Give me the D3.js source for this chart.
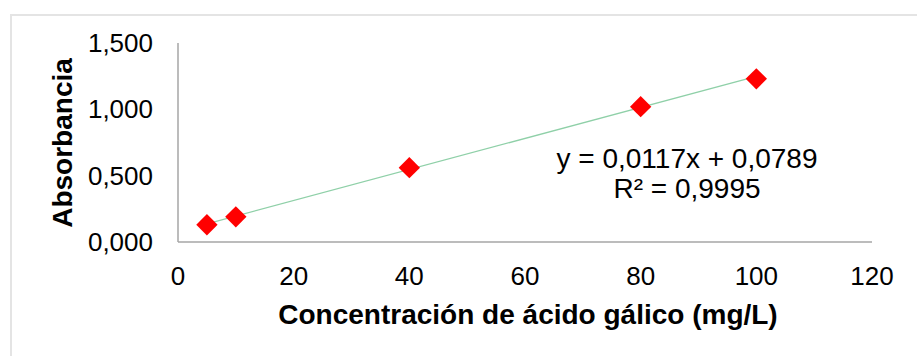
<!DOCTYPE html>
<html>
<head>
<meta charset="utf-8">
<script src="https://cdn.jsdelivr.net/npm/d3@7"></script>
<style>
  html, body { margin: 0; padding: 0; background: #fff; }
  svg { display: block; }
</style>
</head>
<body>
<svg id="chart" width="917" height="356"></svg>
<script>
// Calibration data: gallic acid concentration vs absorbance
const concentrations = [5, 10, 40, 80, 100];
const absorbances = [0.130, 0.190, 0.560, 1.020, 1.230];
const xTicks = [0, 20, 40, 60, 80, 100, 120];
const yTicks = [0, 0.5, 1.0, 1.5];
const slope = 0.0117;
const intercept = 0.0789;
const equationLabel = "y = 0,0117x + 0,0789";
const r2Label = "R² = 0,9995";

const svg = d3.select("#chart");
const font = "'Liberation Sans', Arial, sans-serif";
const tickSize = 26;
const titleSize = 28;

// Outer chart frame
svg.append("rect")
  .attr("x", 11).attr("y", 15)
  .attr("width", 920).attr("height", 360)
  .attr("fill", "#fff")
  .attr("stroke", "#e4e4e4")
  .attr("stroke-width", 2);

const x = d3.scaleLinear().domain([0, 120]).range([178, 872]);
const y = d3.scaleLinear().domain([0, 1.5]).range([242, 43]);

function label(px, py, anchor, txt, size, bold) {
  return svg.append("text")
    .attr("x", px).attr("y", py)
    .attr("text-anchor", anchor)
    .attr("font-family", font)
    .attr("font-size", size)
    .attr("font-weight", bold ? "bold" : "normal")
    .attr("fill", "#000")
    .text(txt);
}

// Axis lines
svg.append("line")
  .attr("x1", x(0)).attr("x2", x(0))
  .attr("y1", y(1.5)).attr("y2", y(0))
  .attr("stroke", "#a6a6a6").attr("stroke-width", 1.5);
svg.append("line")
  .attr("x1", x(0)).attr("x2", x(120))
  .attr("y1", y(0)).attr("y2", y(0))
  .attr("stroke", "#a6a6a6").attr("stroke-width", 1.5);

// Y tick labels
yTicks.forEach(d => {
  label(153, y(d), "end", d3.format(".3f")(d).replace(".", ","), tickSize)
    .attr("dy", "0.35em");
});

// X tick labels
xTicks.forEach(d => {
  label(x(d), 285, "middle", String(d), tickSize);
});

// Axis titles
svg.append("text")
  .attr("transform", "translate(72,143) rotate(-90)")
  .attr("text-anchor", "middle")
  .attr("font-family", font)
  .attr("font-size", titleSize)
  .attr("font-weight", "bold")
  .text("Absorbancia");

label(528, 324, "middle", "Concentración de ácido gálico (mg/L)", titleSize, true);

// Linear trendline over the data range
const xMin = d3.min(concentrations), xMax = d3.max(concentrations);
svg.append("line")
  .attr("x1", x(xMin)).attr("y1", y(slope * xMin + intercept))
  .attr("x2", x(xMax)).attr("y2", y(slope * xMax + intercept))
  .attr("stroke", "#8fd0a8").attr("stroke-width", 1.3);

// Diamond markers
const diamond = d3.symbol().type(d3.symbolDiamond2).size(290);
svg.selectAll(".pt").data(concentrations).enter().append("path")
  .attr("d", diamond)
  .attr("transform", (d, i) => `translate(${x(d)},${y(absorbances[i])})`)
  .attr("fill", "#ff0000");

// Regression equation
label(687, 168, "middle", equationLabel, titleSize);
label(687, 198, "middle", r2Label, titleSize);
</script>
</body>
</html>
